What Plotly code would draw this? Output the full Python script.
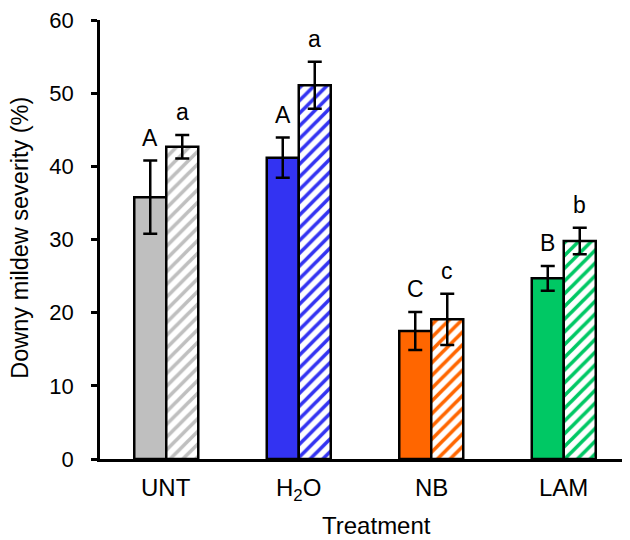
import plotly.graph_objects as go

categories = ["UNT", "H<sub>2</sub>O", "NB", "LAM"]
solid_values = [35.8, 41.2, 17.5, 24.7]
solid_errors = [5.0, 2.75, 2.6, 1.7]
hatched_values = [42.7, 51.1, 19.1, 29.8]
hatched_errors = [1.6, 3.2, 3.5, 1.8]
solid_letters = ["A", "A", "C", "B"]
hatched_letters = ["a", "a", "c", "b"]
colors = ["#BFBFBF", "#3333F2", "#FF6600", "#00C864"]
y_ticks = [0, 10, 20, 30, 40, 50, 60]

FONT = "Liberation Sans, Arial, sans-serif"

fig = go.Figure()
fig.add_trace(go.Bar(
    x=categories, y=solid_values, name="solid",
    marker=dict(color=colors, line=dict(color="black", width=2.5)),
    error_y=dict(type="data", array=solid_errors, visible=True,
                 color="black", thickness=2.5, width=7),
    offsetgroup="0",
))
fig.add_trace(go.Bar(
    x=categories, y=hatched_values, name="hatched",
    marker=dict(color="white", line=dict(color="black", width=2.5),
                pattern=dict(shape="/", fgcolor=colors, bgcolor="white",
                             size=9, solidity=0.4, fillmode="replace")),
    error_y=dict(type="data", array=hatched_errors, visible=True,
                 color="black", thickness=2.5, width=7),
    offsetgroup="1",
))

annotations = []
for i, c in enumerate(categories):
    annotations.append(dict(x=c, y=solid_values[i] + solid_errors[i], xref="x", yref="y",
                            text=solid_letters[i], showarrow=False, xanchor="center",
                            yanchor="bottom", yshift=8, xshift=-16,
                            font=dict(size=23, color="black", family=FONT)))
    annotations.append(dict(x=c, y=hatched_values[i] + hatched_errors[i], xref="x", yref="y",
                            text=hatched_letters[i], showarrow=False, xanchor="center",
                            yanchor="bottom", yshift=8, xshift=16,
                            font=dict(size=23, color="black", family=FONT)))
    # category labels
    annotations.append(dict(x=c, y=-0.0298, xref="x", yref="paper",
                            text=c, showarrow=False, xanchor="center", yanchor="top",
                            font=dict(size=24, color="black", family=FONT)))

annotations.append(dict(x=-0.151, y=0.504, xref="paper", yref="paper",
                        text="Downy mildew severity (%)", textangle=-90, showarrow=False,
                        xanchor="center", yanchor="middle",
                        font=dict(size=23.5, color="black", family=FONT)))
annotations.append(dict(x=0.5226, y=-0.116, xref="paper", yref="paper",
                        text="Treatment", showarrow=False,
                        xanchor="center", yanchor="top",
                        font=dict(size=24, color="black", family=FONT)))

# the page body has an 8px default margin, so the figure is sized/offset to fill 630x540
fig.update_layout(
    width=622, height=532,
    margin=dict(l=92, r=0, t=4, b=81),
    paper_bgcolor="white", plot_bgcolor="white",
    barmode="group", bargap=0.517, bargroupgap=0,
    showlegend=False,
    font=dict(family=FONT, color="black", size=22),
    annotations=annotations,
)
fig.update_xaxes(range=[-0.5, 3.5], showline=True, linecolor="black", linewidth=2.5,
                 ticks="", showgrid=False, zeroline=False, showticklabels=False)
fig.update_yaxes(range=[0, 60.02], tickvals=y_ticks, showline=True, linecolor="black",
                 linewidth=2.5, ticks="outside", ticklen=6, tickwidth=2.5, tickcolor="black",
                 showgrid=False, zeroline=False, ticklabeloverflow="allow",
                 tickfont=dict(size=22, family=FONT, color="black"),
                 ticklabelstandoff=13)

fig.write_html("out.html")
